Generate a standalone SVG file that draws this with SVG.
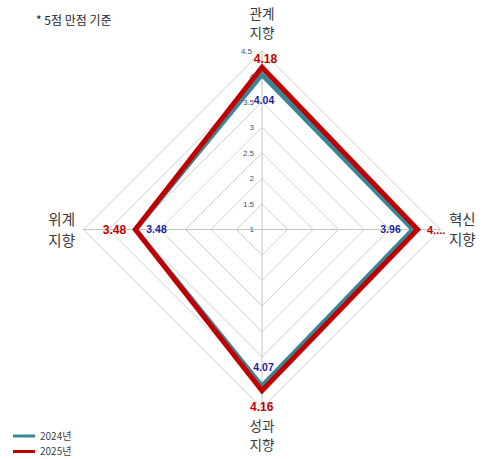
<svg xmlns="http://www.w3.org/2000/svg" width="484" height="459" viewBox="0 0 484 459">
<style>
.bg{fill:#ffffff}
.ring{fill:none;stroke:#d0d0d0;stroke-width:1}
.axis{stroke:#c4c4c4;stroke-width:1}
.tick{font-family:"Liberation Sans","Noto Sans CJK KR",sans-serif;font-size:8px;fill:#44546a;text-anchor:end}
.cat{font-family:"Noto Sans CJK KR","Liberation Sans",sans-serif;font-size:14.5px;fill:#3a3a3a}
.catv{font-family:"Noto Sans CJK KR","Liberation Sans",sans-serif;font-size:13.6px;fill:#3a3a3a}
.v24{font-family:"Liberation Sans","Noto Sans CJK KR",sans-serif;font-size:10.5px;font-weight:bold;fill:#1f1f9c}
.v25{font-family:"Liberation Sans","Noto Sans CJK KR",sans-serif;font-size:12px;font-weight:bold;fill:#c00000}
.s24{fill:none;stroke:#3a8696;stroke-width:5;stroke-linejoin:miter}
.s25{fill:none;stroke:#c00000;stroke-width:5;stroke-linejoin:miter}
.note{font-family:"Noto Sans CJK KR","Liberation Sans",sans-serif;font-size:12px;fill:#262626}
.leg{font-family:"Noto Sans CJK KR","Liberation Sans",sans-serif;font-size:10px;fill:#404040}
</style>
<rect class="bg" x="0" y="0" width="484" height="459"/>
<text class="note" x="36" y="25">* 5점 만점 기준</text>
<g id="grid">
<polygon class="ring" points="262,204 287.5,229.5 262,255 236.5,229.5"/>
<polygon class="ring" points="262,178.5 313,229.5 262,280.5 211,229.5"/>
<polygon class="ring" points="262,153 338.5,229.5 262,306 185.5,229.5"/>
<polygon class="ring" points="262,127.4 364.1,229.5 262,331.6 159.9,229.5"/>
<polygon class="ring" points="262,101.9 389.6,229.5 262,357.1 134.4,229.5"/>
<polygon class="ring" points="262,76.4 415.1,229.5 262,382.6 108.9,229.5"/>
<polygon class="ring" points="262,50.9 440.6,229.5 262,408.1 83.4,229.5"/>
<line class="axis" x1="262" y1="50.9" x2="262" y2="408.1"/>
<line class="axis" x1="83.4" y1="229.5" x2="440.6" y2="229.5"/>
</g>
<g id="ticks">
<text class="tick" x="254" y="232.3">1</text>
<text class="tick" x="254" y="206.8">1.5</text>
<text class="tick" x="254" y="181.3">2</text>
<text class="tick" x="254" y="155.8">2.5</text>
<text class="tick" x="254" y="130.2">3</text>
<text class="tick" x="254" y="104.7">3.5</text>
<text class="tick" x="254" y="79.2">4</text>
<text class="tick" x="252" y="53.7">4.5</text>
</g>
<g id="connectors">
<polygon id="series-2024" class="s24" points="262,74.4 413,229.5 262,386.2 135.4,229.5"/>
<polygon id="series-2025" class="s25" points="262,67.2 417.6,229.5 262,390.8 135.4,229.5"/>
</g>
<g id="node-top">
<text class="catv" text-anchor="middle"><tspan x="262" y="18.5">관계</tspan><tspan x="262" y="38.3">지향</tspan></text>
<text class="v25" x="265.5" y="63" text-anchor="middle">4.18</text>
<text class="v24" x="264" y="104" text-anchor="middle">4.04</text>
</g>
<g id="node-right">
<text class="cat"><tspan x="449" y="224.5">혁신</tspan><tspan x="449" y="244.5">지향</tspan></text>
<text class="v24" x="390.5" y="233" text-anchor="middle">3.96</text>
<text class="v25" x="427" y="234" style="font-size:11px">4....</text>
</g>
<g id="node-bottom">
<text class="v24" x="263.5" y="371" text-anchor="middle">4.07</text>
<text class="v25" x="261.7" y="411" text-anchor="middle">4.16</text>
<text class="catv" text-anchor="middle"><tspan x="262" y="430.5">성과</tspan><tspan x="262" y="450.3">지향</tspan></text>
</g>
<g id="node-left">
<text class="cat" text-anchor="end"><tspan x="75" y="225">위계</tspan><tspan x="75" y="245.5">지향</tspan></text>
<text class="v25" x="114.5" y="234" text-anchor="middle">3.48</text>
<text class="v24" x="156.5" y="233" text-anchor="middle">3.48</text>
</g>
<g id="legend">
<line x1="13" y1="436" x2="35" y2="436" stroke="#3a8696" stroke-width="3"/>
<text class="leg" x="40" y="439.5">2024년</text>
<line x1="13" y1="451.5" x2="35" y2="451.5" stroke="#c00000" stroke-width="3"/>
<text class="leg" x="40" y="455">2025년</text>
</g>
</svg>
